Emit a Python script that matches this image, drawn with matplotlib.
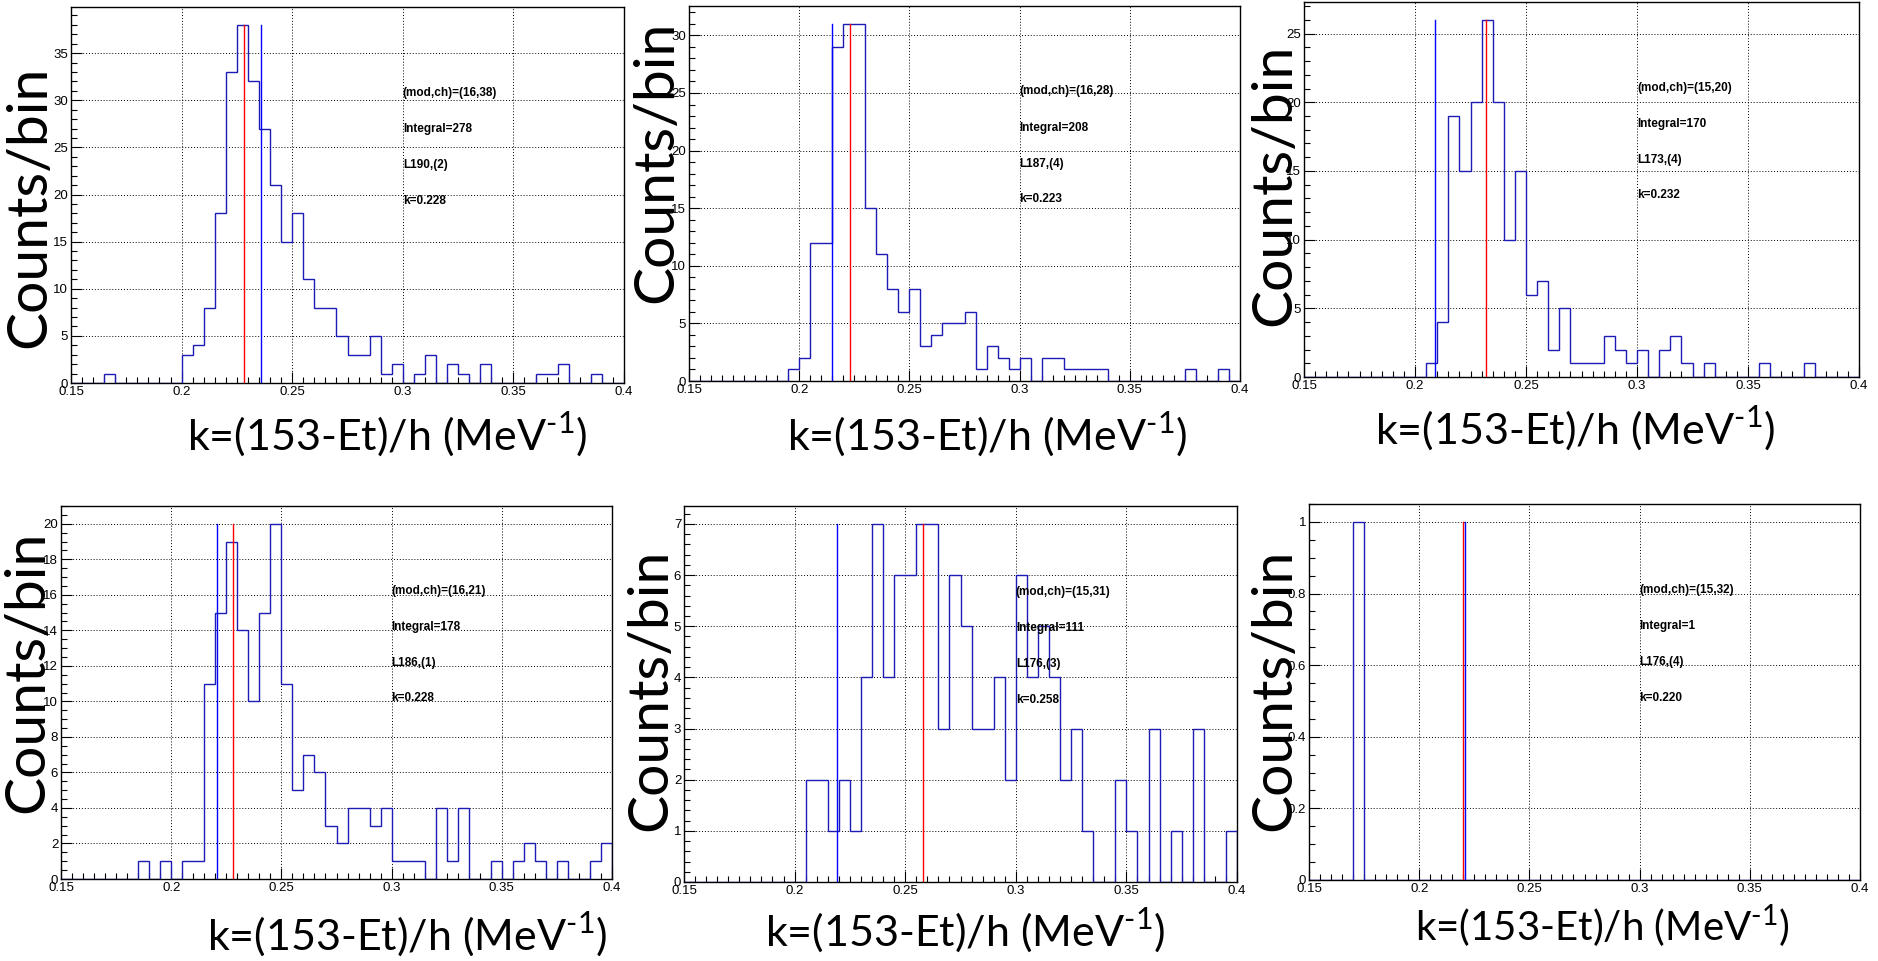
import numpy as np
import matplotlib
matplotlib.use("Agg")
import matplotlib.pyplot as plt
from matplotlib.ticker import MultipleLocator, FormatStrFormatter

W, H = 1878, 961

# ─────────────────────────────────────────────────────────────
# Data: counts per bin, 50 bins of width 0.005 from 0.15 to 0.40
# ─────────────────────────────────────────────────────────────
bin_lo, bin_hi, n_bins = 0.15, 0.40, 50

counts_1 = [0, 0, 0, 1, 0, 0, 0, 0, 0, 0,
            3, 4, 8, 18, 33, 38, 32, 27, 21, 15,
            18, 11, 8, 8, 5, 3, 3, 5, 1, 2,
            0, 1, 3, 0, 2, 1, 0, 2, 0, 0,
            0, 0, 1, 1, 2, 0, 0, 1, 0, 0]
counts_2 = [0, 0, 0, 0, 0, 0, 0, 0, 0, 1,
            2, 12, 12, 29, 31, 31, 15, 11, 8, 6,
            8, 3, 4, 5, 5, 6, 1, 3, 2, 1,
            2, 0, 2, 2, 1, 1, 1, 1, 0, 0,
            0, 0, 0, 0, 0, 1, 0, 0, 1, 0]
counts_3 = [0, 0, 0, 0, 0, 0, 0, 0, 0, 0,
            0, 1, 4, 19, 15, 20, 26, 20, 10, 15,
            6, 7, 2, 5, 1, 1, 1, 3, 2, 1,
            2, 0, 2, 3, 1, 0, 1, 0, 0, 0,
            0, 1, 0, 0, 0, 1, 0, 0, 0, 0]
counts_4 = [0, 0, 0, 0, 0, 0, 0, 1, 0, 1,
            0, 1, 1, 11, 15, 19, 14, 10, 15, 20,
            11, 5, 7, 6, 3, 2, 4, 4, 3, 4,
            1, 1, 1, 0, 4, 1, 4, 0, 0, 1,
            0, 1, 2, 1, 0, 1, 0, 0, 1, 2]
counts_5 = [0, 0, 0, 0, 0, 0, 0, 0, 0, 0,
            0, 2, 2, 1, 2, 1, 4, 7, 4, 6,
            6, 7, 7, 3, 6, 5, 3, 3, 4, 2,
            6, 4, 5, 4, 2, 3, 1, 0, 0, 2,
            1, 0, 3, 0, 1, 0, 3, 0, 0, 1]
counts_6 = [0, 0, 0, 0, 1, 0, 0, 0, 0, 0,
            0, 0, 0, 0, 0, 0, 0, 0, 0, 0,
            0, 0, 0, 0, 0, 0, 0, 0, 0, 0,
            0, 0, 0, 0, 0, 0, 0, 0, 0, 0,
            0, 0, 0, 0, 0, 0, 0, 0, 0, 0]
all_counts = [counts_1, counts_2, counts_3, counts_4, counts_5, counts_6]

k_red = [0.228, 0.223, 0.232, 0.228, 0.258, 0.220]
k_blue = [0.236, 0.215, 0.209, 0.221, 0.219, 0.2207]
mod_ch = ["(16,38)", "(16,28)", "(15,20)", "(16,21)", "(15,31)", "(15,32)"]
integrals = [278, 208, 170, 178, 111, 1]
layers = ["L190,(2)", "L187,(4)", "L173,(4)", "L186,(1)", "L176,(3)", "L176,(4)"]

# ─────────────────────────────────────────────────────────────
# Layout (pixels: left, top, right, bottom)
# ─────────────────────────────────────────────────────────────
boxes = [(71, 7, 624, 383), (689, 6, 1240, 381), (1304, 2, 1859, 377),
         (61, 506, 612, 879), (684, 506, 1237, 882), (1309, 504, 1860, 880)]
y_major = [5, 5, 5, 2, 1, 0.2]
y_minor = [1, 1, 1, 0.5, 0.2, 0.05]
xlabel_xy = [(387, 434), (987, 434), (1575, 428), (407, 934), (965, 930), (1602, 926)]
xlabel_size = [31, 31, 31, 31, 31, 29]
ylabel_xy = [(30, 207), (657, 162), (1275, 185), (28, 672), (651, 690), (1275, 690)]

TICK_FONT = ["Liberation Sans", "DejaVu Sans"]
BIG_FONT = ["Lato", "DejaVu Sans"]
plt.rcParams["mathtext.fontset"] = "custom"
plt.rcParams["mathtext.rm"] = "Lato"

HIST_COLOR = "#1c1cb4"
XLABEL = r"k=(153-Et)/h (MeV$^{\text{-1}}$)"

fig = plt.figure(figsize=(W / 100, H / 100), dpi=100)
edges = np.linspace(bin_lo, bin_hi, n_bins + 1)

for i, counts in enumerate(all_counts):
    l, t, r, b = boxes[i]
    ax = fig.add_axes([l / W, 1 - b / H, (r - l) / W, (b - t) / H])
    top = max(counts)

    ax.stairs(counts, edges, color=HIST_COLOR, lw=1.0, baseline=0, zorder=3)
    ax.plot([k_red[i], k_red[i]], [0, top], color="#ff0000", lw=1.0, zorder=4)
    ax.plot([k_blue[i], k_blue[i]], [0, top], color="#0000ff", lw=1.0, zorder=4)

    ax.set_xlim(bin_lo, bin_hi)
    ax.set_ylim(0, top * 1.05)

    ax.xaxis.set_major_locator(MultipleLocator(0.05))
    ax.xaxis.set_minor_locator(MultipleLocator(0.005))
    ax.yaxis.set_major_locator(MultipleLocator(y_major[i]))
    ax.yaxis.set_minor_locator(MultipleLocator(y_minor[i]))
    ax.xaxis.set_major_formatter(FormatStrFormatter("%g"))
    ax.yaxis.set_major_formatter(FormatStrFormatter("%g"))

    ax.tick_params(which="both", direction="in", top=False, right=False,
                   labelsize=9.5, pad=2, width=0.8, color="black")
    ax.tick_params(which="major", length=8)
    ax.tick_params(which="minor", length=4)
    for lab in ax.get_xticklabels() + ax.get_yticklabels():
        lab.set_family(TICK_FONT)

    ax.grid(True, which="major", color="black", lw=0.7, linestyle=(0, (1, 2)))
    ax.set_axisbelow(True)
    for sp in ax.spines.values():
        sp.set_linewidth(1.0)

    # info text block: x in data units, y as fraction of the axes
    info = [f"(mod,ch)={mod_ch[i]}", f"Integral={integrals[i]}", layers[i], f"k={k_red[i]:.3f}"]
    for j, s in enumerate(info):
        ax.text(0.3, 1 - (0.228 + 0.096 * j), s, transform=ax.get_xaxis_transform(),
                ha="left", va="center", fontsize=8.5, fontweight="bold",
                family=TICK_FONT, zorder=5)

    # big axis titles
    xl, yl = xlabel_xy[i]
    fig.text(xl / W, 1 - yl / H, XLABEL,
             ha="center", va="center", fontsize=xlabel_size[i], family=BIG_FONT)
    xl, yl = ylabel_xy[i]
    fig.text(xl / W, 1 - yl / H, "Counts/bin", rotation=90,
             ha="center", va="center", fontsize=41, family=BIG_FONT)

fig.savefig("out.png", dpi=100)
